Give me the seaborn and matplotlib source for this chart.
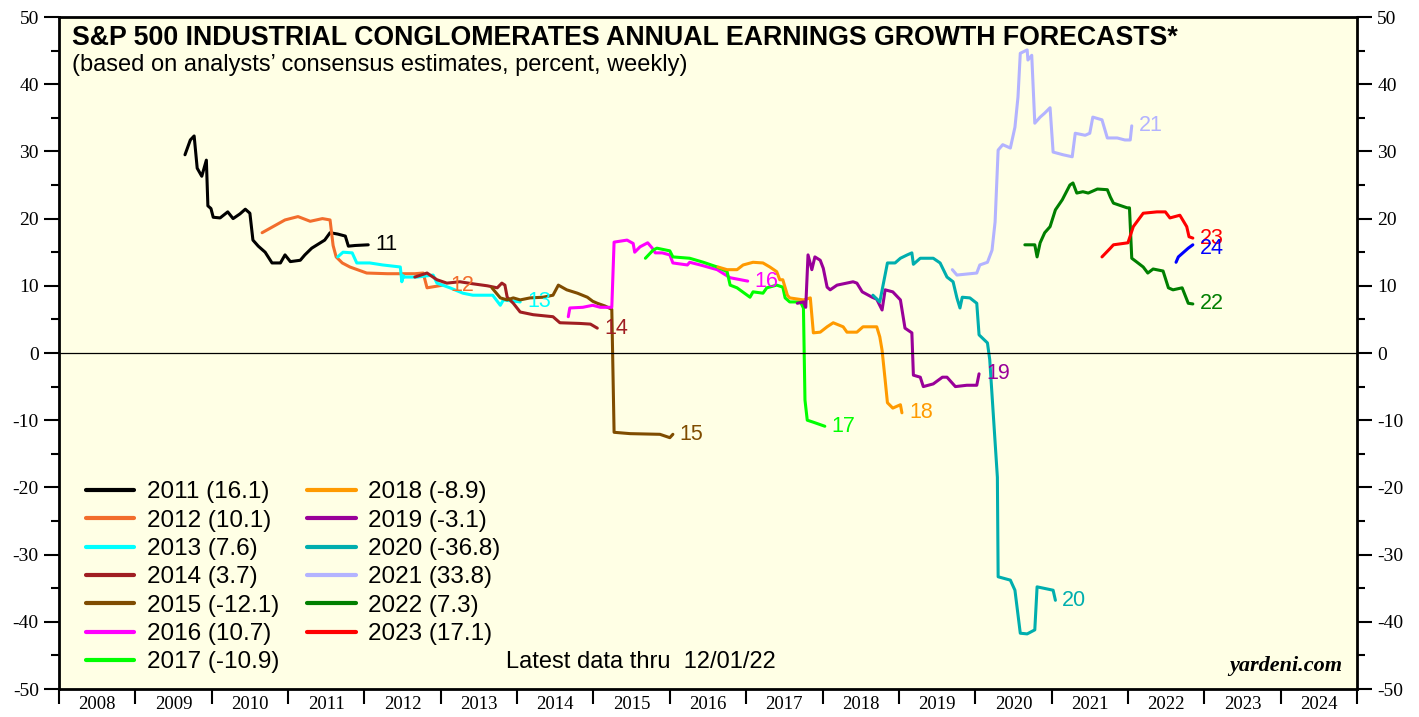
import matplotlib
matplotlib.use("Agg")
import matplotlib.pyplot as plt
import seaborn as sns
import pandas as pd
from matplotlib.ticker import MultipleLocator, FixedLocator, NullFormatter, FixedFormatter

# forecast year -> (decimal-year dates, growth forecast %)
years_2011 = [2009.65, 2009.72, 2009.77, 2009.81, 2009.87, 2009.93, 2009.95, 2009.99, 2010.02, 2010.11,
              2010.21, 2010.28, 2010.37, 2010.44, 2010.50, 2010.54, 2010.61, 2010.70, 2010.79, 2010.90,
              2010.96, 2011.03, 2011.16, 2011.22, 2011.31, 2011.48, 2011.55, 2011.65, 2011.75, 2011.79,
              2011.88, 2012.05]
vals_2011 = [29.5, 31.7, 32.3, 27.5, 26.3, 28.7, 21.9, 21.5, 20.2, 20.1,
             21.0, 20.0, 20.7, 21.4, 20.8, 16.8, 15.9, 15.0, 13.4, 13.4,
             14.6, 13.6, 13.8, 14.6, 15.6, 16.8, 17.9, 17.7, 17.4, 15.9,
             16.0, 16.1]

years_2012 = [2010.66, 2010.96, 2011.13, 2011.29, 2011.45, 2011.55, 2011.59, 2011.63, 2011.71, 2011.81,
              2012.03, 2012.30, 2012.66, 2012.77, 2012.82, 2013.03]
vals_2012 = [17.9, 19.8, 20.3, 19.6, 20.0, 19.8, 16.0, 14.3, 13.4, 12.8,
             11.9, 11.8, 11.8, 11.9, 9.7, 10.1]

years_2013 = [2011.65, 2011.72, 2011.84, 2011.90, 2012.07, 2012.24, 2012.47, 2012.49, 2012.51, 2012.52,
              2012.69, 2012.90, 2012.95, 2013.12, 2013.29, 2013.42, 2013.68, 2013.78, 2013.82, 2014.04]
vals_2013 = [14.3, 15.0, 14.9, 13.4, 13.4, 13.1, 12.8, 10.6, 11.5, 11.3,
             11.3, 11.6, 10.4, 9.7, 8.9, 8.6, 8.6, 7.1, 7.9, 7.6]

years_2014 = [2012.66, 2012.82, 2012.95, 2013.08, 2013.25, 2013.42, 2013.61, 2013.74, 2013.80, 2013.84,
              2013.87, 2013.95, 2014.04, 2014.21, 2014.47, 2014.56, 2014.82, 2014.96, 2015.05]
vals_2014 = [11.3, 11.9, 10.9, 10.4, 10.6, 10.3, 10.0, 9.7, 10.4, 10.1,
             8.3, 7.4, 6.1, 5.7, 5.4, 4.5, 4.4, 4.3, 3.7]

years_2015 = [2013.67, 2013.78, 2013.87, 2013.95, 2014.04, 2014.17, 2014.34, 2014.47, 2014.54, 2014.65,
              2014.79, 2014.92, 2014.99, 2015.05, 2015.15, 2015.24, 2015.27, 2015.48, 2015.87, 2016.00,
              2016.04]
vals_2015 = [9.7, 8.2, 7.9, 8.2, 7.9, 8.2, 8.3, 8.6, 10.1, 9.4,
             8.9, 8.3, 7.7, 7.4, 7.0, 6.5, -11.8, -12.0, -12.1, -12.6,
             -12.1]

years_2016 = [2014.67, 2014.69, 2014.86, 2014.99, 2015.09, 2015.24, 2015.27, 2015.44, 2015.52, 2015.54,
              2015.61, 2015.71, 2015.77, 2015.81, 2015.90, 2016.00, 2016.04, 2016.23, 2016.26, 2016.40,
              2016.62, 2016.79, 2017.02]
vals_2016 = [5.4, 6.7, 6.8, 7.1, 6.8, 6.8, 16.5, 16.8, 16.3, 15.0,
             15.8, 16.4, 15.6, 14.9, 14.9, 14.6, 13.4, 13.1, 13.5, 13.1,
             12.4, 11.2, 10.7]

years_2017 = [2015.68, 2015.78, 2015.83, 2016.00, 2016.04, 2016.26, 2016.44, 2016.62, 2016.75, 2016.79,
              2016.88, 2017.05, 2017.09, 2017.22, 2017.27, 2017.40, 2017.48, 2017.51, 2017.57, 2017.71,
              2017.75, 2017.77, 2017.80, 2017.88, 2018.03]
vals_2017 = [14.1, 15.3, 15.6, 15.2, 14.3, 14.1, 13.5, 12.8, 12.1, 10.1,
             9.7, 8.3, 9.1, 8.9, 9.7, 10.1, 9.8, 8.2, 7.6, 7.6,
             6.7, -7.0, -10.0, -10.3, -10.9]

years_2018 = [2016.63, 2016.75, 2016.88, 2016.96, 2017.09, 2017.22, 2017.31, 2017.40, 2017.44, 2017.48,
              2017.54, 2017.57, 2017.75, 2017.84, 2017.88, 2017.97, 2018.06, 2018.14, 2018.27, 2018.32,
              2018.45, 2018.53, 2018.71, 2018.75, 2018.78, 2018.82, 2018.85, 2018.92, 2019.02, 2019.04]
vals_2018 = [12.8, 12.4, 12.4, 13.1, 13.5, 13.4, 12.8, 12.1, 10.9, 10.9,
             8.6, 8.2, 7.9, 8.2, 3.0, 3.1, 3.9, 4.5, 3.9, 3.1,
             3.1, 3.9, 3.9, 2.4, 0.4, -4.0, -7.4, -8.2, -7.7, -8.9]

years_2019 = [2017.67, 2017.75, 2017.78, 2017.81, 2017.86, 2017.90, 2017.97, 2018.01, 2018.06, 2018.10,
              2018.19, 2018.40, 2018.45, 2018.52, 2018.65, 2018.71, 2018.78, 2018.82, 2018.92, 2019.02,
              2019.08, 2019.17, 2019.19, 2019.28, 2019.32, 2019.45, 2019.57, 2019.63, 2019.74, 2019.89,
              2020.02, 2020.05]
vals_2019 = [7.4, 7.6, 6.8, 14.6, 12.4, 14.3, 13.8, 12.6, 9.8, 9.4,
             10.1, 10.6, 10.4, 9.1, 8.3, 8.0, 6.4, 9.4, 9.1, 7.9,
             3.7, 3.0, -3.3, -3.6, -5.0, -4.6, -3.6, -3.6, -5.0, -4.8,
             -4.8, -3.1]

years_2020 = [2018.66, 2018.75, 2018.85, 2018.95, 2019.02, 2019.11, 2019.17, 2019.19, 2019.28, 2019.45,
              2019.54, 2019.63, 2019.71, 2019.76, 2019.80, 2019.83, 2019.93, 2020.02, 2020.05, 2020.16,
              2020.19, 2020.29, 2020.30, 2020.46, 2020.52, 2020.59, 2020.68, 2020.78, 2020.81, 2021.02,
              2021.05]
vals_2020 = [8.6, 7.6, 13.4, 13.4, 14.1, 14.6, 14.9, 13.2, 14.1, 14.1,
             13.4, 11.3, 10.6, 8.2, 6.7, 8.3, 8.2, 7.4, 2.7, 1.5,
             -1.0, -18.5, -33.3, -33.8, -35.3, -41.7, -41.8, -41.2, -34.8, -35.3,
             -36.8]

years_2021 = [2019.70, 2019.76, 2020.02, 2020.06, 2020.16, 2020.22, 2020.26, 2020.30, 2020.36, 2020.46,
              2020.52, 2020.56, 2020.59, 2020.68, 2020.69, 2020.74, 2020.78, 2020.85, 2020.91, 2020.98,
              2021.02, 2021.15, 2021.27, 2021.31, 2021.44, 2021.50, 2021.54, 2021.66, 2021.73, 2021.86,
              2021.96, 2022.03, 2022.05]
vals_2021 = [12.4, 11.6, 11.9, 13.1, 13.5, 15.3, 19.5, 30.2, 31.0, 30.5,
             33.6, 38.1, 44.6, 45.1, 43.6, 44.3, 34.2, 35.1, 35.7, 36.5,
             29.9, 29.5, 29.2, 32.7, 32.4, 32.7, 35.1, 34.7, 32.0, 32.0,
             31.7, 31.7, 33.8]

years_2022 = [2020.65, 2020.78, 2020.81, 2020.85, 2020.91, 2020.98, 2021.05, 2021.14, 2021.24, 2021.28,
              2021.33, 2021.41, 2021.48, 2021.60, 2021.73, 2021.77, 2021.81, 2021.99, 2022.02, 2022.05,
              2022.12, 2022.20, 2022.26, 2022.33, 2022.46, 2022.53, 2022.59, 2022.71, 2022.79, 2022.85]
vals_2022 = [16.1, 16.1, 14.3, 16.4, 17.9, 18.8, 21.3, 22.8, 25.0, 25.3,
             23.8, 24.0, 23.8, 24.4, 24.3, 23.2, 22.3, 21.6, 21.6, 14.1,
             13.5, 12.8, 11.9, 12.5, 12.2, 9.7, 9.4, 9.7, 7.4, 7.3]

years_2023 = [2021.66, 2021.77, 2021.81, 2022.00, 2022.07, 2022.20, 2022.38, 2022.49, 2022.55, 2022.68,
              2022.77, 2022.80, 2022.85]
vals_2023 = [14.3, 15.6, 16.1, 16.4, 18.8, 20.8, 21.0, 21.0, 20.1, 20.5,
             18.8, 17.3, 17.1]

years_2024 = [2022.63, 2022.66, 2022.72, 2022.79, 2022.85]
vals_2024 = [13.5, 14.3, 14.9, 15.6, 16.1]

series_names = ["2011", "2012", "2013", "2014", "2015", "2016", "2017", "2018",
                "2019", "2020", "2021", "2022", "2023", "2024"]
series_years = [years_2011, years_2012, years_2013, years_2014, years_2015, years_2016, years_2017,
                years_2018, years_2019, years_2020, years_2021, years_2022, years_2023, years_2024]
series_vals = [vals_2011, vals_2012, vals_2013, vals_2014, vals_2015, vals_2016, vals_2017,
               vals_2018, vals_2019, vals_2020, vals_2021, vals_2022, vals_2023, vals_2024]
colors = ["#000000", "#F26D2C", "#00FFFF", "#A01E22", "#7F4C00", "#FF00FF", "#00FF00",
          "#FF9A00", "#990099", "#00AEAE", "#B3B3FF", "#007F00", "#FF0000", "#0000FF"]
year_labels = [str(y) for y in range(2008, 2025)]

sns.set_style("ticks")
plt.rcParams["font.family"] = ["Liberation Sans", "DejaVu Sans"]
plt.rcParams["axes.unicode_minus"] = False
plt.rcParams["text.color"] = "black"
plt.rcParams["xtick.color"] = "black"
plt.rcParams["ytick.color"] = "black"
plt.rcParams["xtick.labelcolor"] = "black"
plt.rcParams["ytick.labelcolor"] = "black"

fig = plt.figure(figsize=(14.19, 7.17), dpi=100)
ax = fig.add_axes([59 / 1419, 28 / 717, 1298 / 1419, 672 / 717])
ax.set_facecolor("#FFFFE5")

handles = []
for name, xs, ys, c in zip(series_names, series_years, series_vals, colors):
    df = pd.DataFrame({"date": xs, "growth": ys})
    sns.lineplot(data=df, x="date", y="growth", color=c, lw=2.2, sort=False,
                 estimator=None, ax=ax, legend=False)
    # 23 and 24 end at the same spot; nudge the 24 tag down a little
    dy = -2.5 if name == "2024" else 0
    ax.annotate(name[2:], (xs[-1], ys[-1]), xytext=(5, dy), textcoords="offset points",
                va="center", ha="left", fontsize=15.5, color=c)
    if name != "2024":
        handles.append(plt.Line2D([], [], color=c, lw=3,
                                  label=f"{name} ({ys[-1]:.1f})"))

ax.axhline(0, color="black", lw=0.9)

ax.set_xlim(2008, 2025)
ax.set_ylim(-50, 50)
ax.set_xlabel("")
ax.set_ylabel("")

# x axis: ticks at year boundaries, labels centred in each year
ax.xaxis.set_major_locator(MultipleLocator(1))
ax.xaxis.set_major_formatter(NullFormatter())
ax.xaxis.set_minor_locator(FixedLocator([y + 0.5 for y in range(2008, 2025)]))
ax.xaxis.set_minor_formatter(FixedFormatter(year_labels))
ax.tick_params(axis="x", which="major", length=11, width=1.5, direction="out")
ax.tick_params(axis="x", which="minor", length=0, pad=5, labelsize=13.5)
for t in ax.xaxis.get_minorticklabels():
    t.set_fontfamily("Liberation Serif")

ax.yaxis.set_major_locator(MultipleLocator(10))
ax.yaxis.set_minor_locator(MultipleLocator(5))
ax.tick_params(axis="y", which="both", left=True, right=True, labelleft=True,
               labelright=True, direction="out", labelsize=14)
ax.tick_params(axis="y", which="major", length=11, width=1.5)
ax.tick_params(axis="y", which="minor", length=6, width=1.5)
for t in ax.get_yticklabels():
    t.set_fontfamily("Liberation Serif")

for s in ax.spines.values():
    s.set_visible(True)
    s.set_linewidth(2)
    s.set_color("black")

ax.text(0.010, 0.988, "S&P 500 INDUSTRIAL CONGLOMERATES ANNUAL EARNINGS GROWTH FORECASTS*",
        transform=ax.transAxes, fontsize=19.3, fontweight="bold", va="top", ha="left")
ax.text(0.010, 0.945, "(based on analysts\u2019 consensus estimates, percent, weekly)",
        transform=ax.transAxes, fontsize=17, va="top", ha="left")

ax.legend(handles=handles, ncol=2, loc="upper left", bbox_to_anchor=(0.0113, 0.327),
          frameon=False, fontsize=17.5, handlelength=2.0, labelspacing=0.26,
          columnspacing=1.15, borderpad=0, handletextpad=0.5)

ax.text(0.344, 0.04, "Latest data thru  12/01/22", transform=ax.transAxes,
        fontsize=17, va="center", ha="left")
ax.text(0.989, 0.02, "yardeni.com", transform=ax.transAxes, fontsize=16,
        fontweight="bold", fontstyle="italic", fontfamily="Liberation Serif",
        va="bottom", ha="right")

fig.savefig("out.png", dpi=100, facecolor="white")
